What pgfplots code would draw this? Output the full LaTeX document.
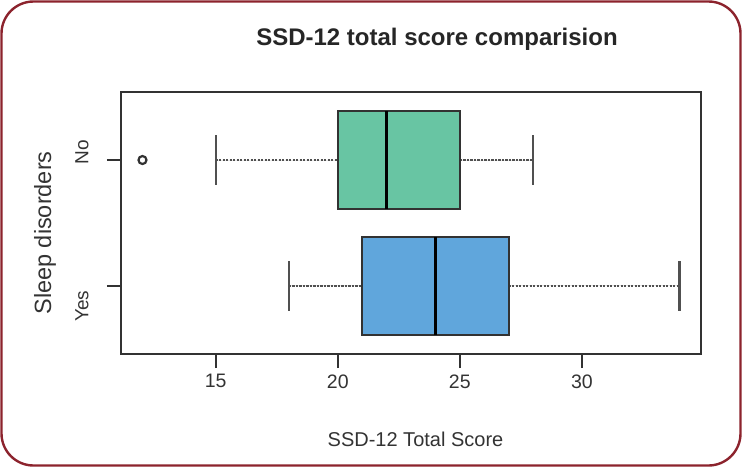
\documentclass[border=0pt]{standalone}
\usepackage{fontspec}
\setmainfont{Liberation Sans}
\usepackage{pgfplots}
\pgfplotsset{compat=1.18}
\usepgfplotslibrary{statistics}

\definecolor{frame}{RGB}{140,35,45}
\definecolor{boxgreen}{RGB}{104,197,163}
\definecolor{boxblue}{RGB}{96,166,220}
\definecolor{axgray}{RGB}{50,50,50}
\definecolor{whisk}{RGB}{80,80,80}

\pgfplotsset{
  rbox/.style={
    boxplot prepared,
    boxplot/draw direction=x,
    boxplot/box extend=0.78,
    boxplot/whisker extend=0.39,
    boxplot/every box/.style={draw=axgray, line width=1.8pt},
    boxplot/every median/.style={draw=black, line width=3.2pt},
    boxplot/draw/lower whisker/.code={%
      \draw[whisk, line width=2.4pt, dash pattern=on 2.2pt off 1.3pt]
        (boxplot box cs:\pgfplotsboxplotvalue{lower whisker},0.5) --
        (boxplot box cs:\pgfplotsboxplotvalue{lower quartile},0.5);
      \draw[whisk, line width=2.4pt]
        (boxplot whisker cs:\pgfplotsboxplotvalue{lower whisker},0) --
        (boxplot whisker cs:\pgfplotsboxplotvalue{lower whisker},1);
    },
    boxplot/draw/upper whisker/.code={%
      \draw[whisk, line width=2.4pt, dash pattern=on 2.2pt off 1.3pt]
        (boxplot box cs:\pgfplotsboxplotvalue{upper quartile},0.5) --
        (boxplot box cs:\pgfplotsboxplotvalue{upper whisker},0.5);
      \draw[whisk, line width=2.4pt]
        (boxplot whisker cs:\pgfplotsboxplotvalue{upper whisker},0) --
        (boxplot whisker cs:\pgfplotsboxplotvalue{upper whisker},1);
    },
  },
}

\begin{document}
\begin{tikzpicture}
  \useasboundingbox (0,0) rectangle (742pt,467pt);
  \draw[frame, line width=2.4pt, rounded corners=32pt] (1.5pt,1.5pt) rectangle (740.5pt,465.5pt);

  \begin{axis}[
      at={(121pt,113pt)}, anchor=south west,
      width=580pt, height=262pt, scale only axis,
      xmin=11.12, xmax=34.88,
      ymin=0.46, ymax=2.54,
      xtick={15,20,25,30},
      ytick={1,2},
      yticklabels={},
      axis line style={axgray, line width=2pt},
      tick style={axgray, line width=2.4pt},
      tick align=outside,
      major tick length=14pt,
      xtick pos=bottom, ytick pos=left,
      /pgf/number format/assume math mode=true,
      xticklabel style={font=\fontsize{19.5}{22}\selectfont, text=black!80, yshift=-3pt},
      clip=false,
    ]
    % Yes (position 1)
    \addplot[rbox, boxplot prepared={draw position=1,
        lower whisker=18, lower quartile=21, median=24,
        upper quartile=27, upper whisker=34},
      fill=boxblue, draw=axgray] coordinates {};
    % No (position 2)
    \addplot[rbox, boxplot prepared={draw position=2,
        lower whisker=15, lower quartile=20, median=22,
        upper quartile=25, upper whisker=28},
      fill=boxgreen, draw=axgray] coordinates {};
    % outlier
    \addplot[only marks, mark=o, mark size=4pt, mark options={draw=axgray, line width=2.2pt}]
      coordinates {(12,2)};

    \node[rotate=90, font=\fontsize{19}{22}\selectfont, text=black!80]
      at ([xshift=-39pt]axis cs:11.12,2.063) {No};
    \node[rotate=90, font=\fontsize{19}{22}\selectfont, text=black!80]
      at ([xshift=-39pt]axis cs:11.12,0.841) {Yes};
  \end{axis}

  \node[font=\fontsize{24}{28}\selectfont\bfseries, text=black!85] at (437pt,428pt) {SSD-12 total score comparision};
  \node[font=\fontsize{20}{24}\selectfont, text=black!80] at (415.5pt,28pt) {SSD-12 Total Score};
  \node[rotate=90, font=\fontsize{23.5}{26}\selectfont, text=black!80] at (45pt,234pt) {Sleep disorders};
\end{tikzpicture}
\end{document}
